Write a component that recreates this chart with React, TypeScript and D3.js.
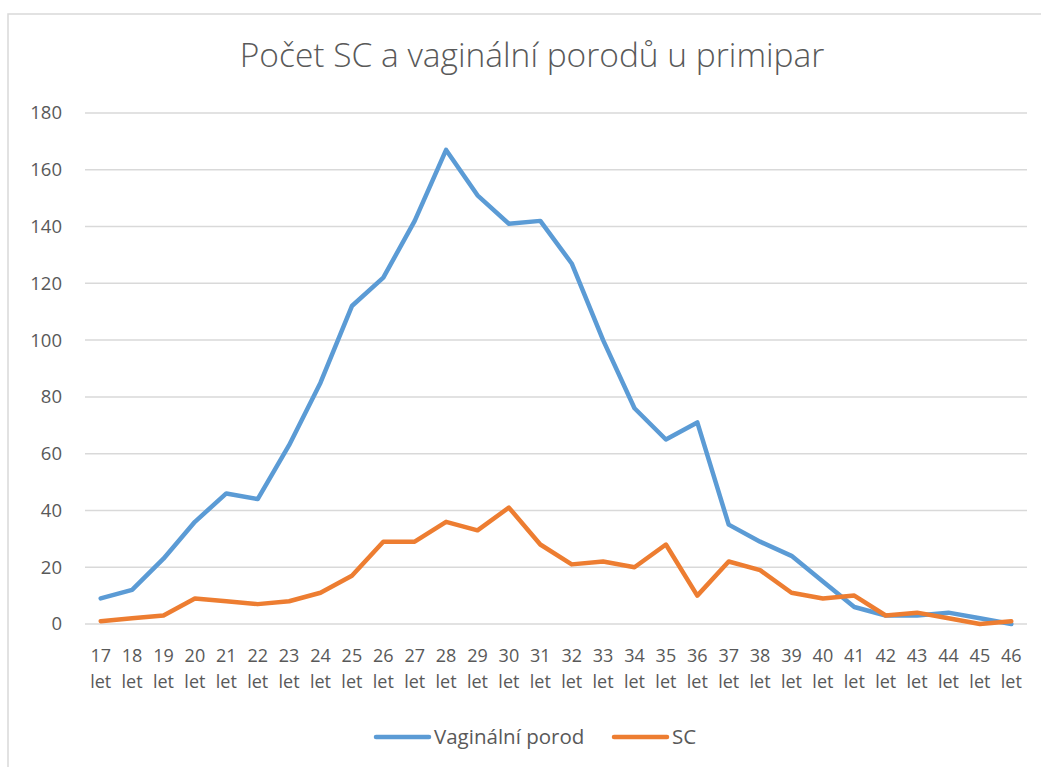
import React from "react";
import * as d3 from "d3";

const categories = ["17 let","18 let","19 let","20 let","21 let","22 let","23 let","24 let","25 let","26 let","27 let","28 let","29 let","30 let","31 let","32 let","33 let","34 let","35 let","36 let","37 let","38 let","39 let","40 let","41 let","42 let","43 let","44 let","45 let","46 let"];
const vaginalni = [9,12,23,36,46,44,63,85,112,122,142,167,151,141,142,127,100,76,65,71,35,29,24,15,6,3,3,4,2,0];
const sc = [1,2,3,9,8,7,8,11,17,29,29,36,33,41,28,21,22,20,28,10,22,19,11,9,10,3,4,2,0,1];
const yTicks = [0,20,40,60,80,100,120,140,160,180];
const seriesNames = ["Vaginální porod", "SC"];
const colors = ["#5B9BD5", "#ED7D31"];

const W = 1041, H = 767;
const plot = { left: 85, right: 1027, top: 113, bottom: 624 };
const FONT = "'Open Sans', sans-serif";

export default function App() {
  const x = d3.scaleBand<string>().domain(categories).range([plot.left, plot.right]);
  const y = d3.scaleLinear().domain([0, 180]).range([plot.bottom, plot.top]);
  const line = d3.line<number>()
    .x((_, i) => (x(categories[i]) as number) + x.bandwidth() / 2)
    .y(d => y(d));
  const series = [vaginalni, sc];

  return (
    <svg width={W} height={H} style={{ position: "absolute", left: 0, top: 0, background: "#fff" }} fontFamily={FONT}>
      <rect x={8} y={14} width={1060} height={800} fill="#fff" stroke="#d9d9d9" strokeWidth={1.5} />
      <text x={532} y={67} textAnchor="middle" fontSize={33.5} fontWeight={300} fill="#595959">Počet SC a vaginální porodů u primipar</text>
      {yTicks.map(t => (
        <g key={t}>
          <line x1={plot.left} x2={plot.right} y1={y(t)} y2={y(t)} stroke="#d9d9d9" strokeWidth={1.5} />
          <text x={62} y={y(t)} dy="0.35em" textAnchor="end" fontSize={18.5} fill="#595959">{t}</text>
        </g>
      ))}
      {categories.map(c => {
        const [num, unit] = c.split(" ");
        const cx = (x(c) as number) + x.bandwidth() / 2;
        return (
          <g key={c}>
            <text x={cx} y={662} textAnchor="middle" fontSize={18} fill="#595959">{num}</text>
            <text x={cx} y={688} textAnchor="middle" fontSize={18} fill="#595959">{unit}</text>
          </g>
        );
      })}
      {series.map((s, i) => (
        <path key={i} d={line(s) as string} fill="none" stroke={colors[i]} strokeWidth={4.5} strokeLinejoin="round" strokeLinecap="round" />
      ))}
      {seriesNames.map((n, i) => {
        const lx = [376, 614][i];
        return (
          <g key={n}>
            <line x1={lx} x2={lx + 53} y1={737} y2={737} stroke={colors[i]} strokeWidth={4.5} strokeLinecap="round" />
            <text x={lx + 58} y={737} dy="0.35em" fontSize={20.5} fill="#595959">{n}</text>
          </g>
        );
      })}
    </svg>
  );
}
